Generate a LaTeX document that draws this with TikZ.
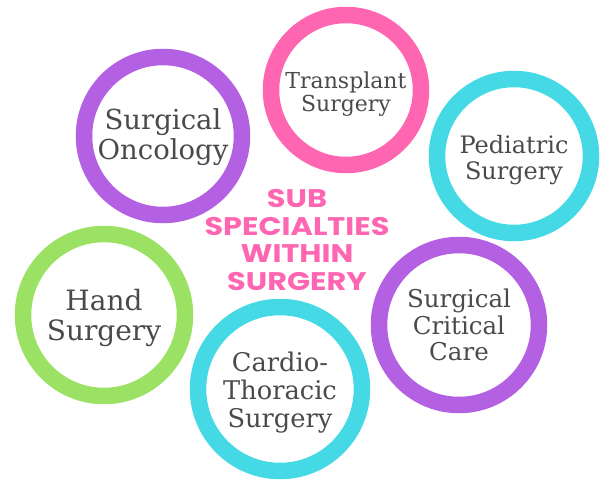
\documentclass[tikz,border=0pt]{standalone}
\usepackage{fontspec}
\newfontfamily\labfont{DejaVu Serif}
\newfontfamily\titlefont[FakeStretch=1.19]{Poppins Bold}
\definecolor{ringpurple}{HTML}{B460E3}
\definecolor{ringpink}{HTML}{FF66B2}
\definecolor{ringcyan}{HTML}{45D9E6}
\definecolor{labgray}{HTML}{4A4A4A}
\definecolor{ringgreen}{HTML}{9BE264}
\begin{document}
\begin{tikzpicture}[x=1pt,y=-1pt,
  ring/.style={circle, draw=#1, line width=16.5pt, inner sep=0pt},
  lab/.style={align=center, text=labgray, inner sep=0pt},
  title/.style={align=center, text=ringpink, inner sep=0pt, font=\titlefont\fontsize{25.5}{27.8}\selectfont}]
\useasboundingbox (0,0) rectangle (600,480);
\node[ring=ringpurple, minimum size=158pt] (onc) at (163,136) {};
\node[ring=ringpink, minimum size=150pt] (trans) at (346,90) {};
\node[ring=ringcyan, minimum size=154pt] (ped) at (514,156) {};
\node[ring=ringgreen, minimum size=162pt] (hand) at (104,315) {};
\node[ring=ringcyan, minimum size=164pt] (cardio) at (280,389) {};
\node[ring=ringpurple, minimum size=160pt] (crit) at (459,325) {};
\node[lab, font=\labfont\fontsize{27.5}{30}\selectfont] (onct) at ([yshift=-1pt]onc.center) {Surgical\\Oncology};
\node[lab, font=\labfont\fontsize{22}{22.5}\selectfont] (transt) at ([yshift=-4pt]trans.center) {Transplant\\Surgery};
\node[lab, font=\labfont\fontsize{24}{26}\selectfont] (pedt) at ([yshift=-4pt]ped.center) {Pediatric\\Surgery};
\node[lab, font=\labfont\fontsize{28}{30}\selectfont] (handt) at ([yshift=-3pt]hand.center) {Hand\\Surgery};
\node[lab, font=\labfont\fontsize{25.7}{28}\selectfont] (cardiot) at ([yshift=-4pt]cardio.center) {Cardio-\\Thoracic\\Surgery};
\node[lab, font=\labfont\fontsize{24.5}{26.5}\selectfont] (critt) at (crit.center) {Surgical\\Critical\\Care};
\node[title] (ttl) at (297,240) {SUB\\SPECIALTIES\\WITHIN\\SURGERY};
\end{tikzpicture}
\end{document}
